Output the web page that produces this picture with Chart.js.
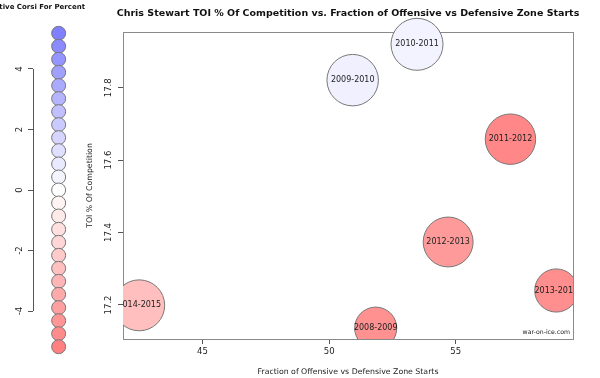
<!DOCTYPE html>
<html>
<head>
<meta charset="utf-8">
<script src="https://cdn.jsdelivr.net/npm/chart.js@4.4.0/dist/chart.umd.min.js"></script>
<style>
  html, body { margin: 0; padding: 0; background: #fff; }
  #wrap { position: relative; width: 600px; height: 378px; overflow: hidden; }
  canvas { position: absolute; top: 0; left: 0; }
</style>
</head>
<body>
<div id="wrap">
  <canvas id="legend" width="120" height="378"></canvas>
  <canvas id="chart" width="600" height="378"></canvas>
</div>
<script>
const seasons = ['2008-2009', '2009-2010', '2010-2011', '2011-2012', '2012-2013', '2013-2014', '2014-2015'];
const zoneStarts = [51.84, 50.93, 53.47, 57.16, 54.70, 58.97, 42.50];
const toiComp = [17.136, 17.821, 17.920, 17.658, 17.374, 17.240, 17.199];
const relCorsi = [-4.5, 0.6, 0.5, -4.9, -4.1, -4.6, -2.6];
const bubbleSize = [0.81, 0.99, 1.0, 0.97, 0.96, 0.83, 0.98];

const xTicks = [45, 50, 55];
const yTicks = [17.2, 17.4, 17.6, 17.8];

// colour key on the left
const legendValues = [5.18, 4.75, 4.32, 3.89, 3.45, 3.02, 2.59, 2.16, 1.73, 1.30, 0.86, 0.43, 0,
  -0.43, -0.86, -1.30, -1.73, -2.16, -2.59, -3.02, -3.45, -3.89, -4.32, -4.75, -5.18];
const legendTicks = [-4, -2, 0, 2, 4];

Chart.defaults.font.family = '"DejaVu Sans", sans-serif';

function colorFor(v) {
  const f = Math.min(Math.abs(v) / 5.18, 1);
  const c = Math.round(255 - 127 * f);
  return v >= 0 ? `rgb(${c},${c},255)` : `rgb(255,${c},${c})`;
}

const legendDeco = {
  id: 'legendDeco',
  beforeDatasetsDraw(chart) {
    // axis line only between first and last tick, like R
    const ctx = chart.ctx, s = chart.scales.y;
    const x = Math.round(chart.chartArea.left) + 0.5;
    ctx.save();
    ctx.strokeStyle = '#555';
    ctx.lineWidth = 1;
    ctx.beginPath();
    ctx.moveTo(x, s.getPixelForValue(legendTicks[0]));
    ctx.lineTo(x, s.getPixelForValue(legendTicks[legendTicks.length - 1]));
    ctx.stroke();
    ctx.restore();
  },
  afterDraw(chart) {
    const ctx = chart.ctx;
    ctx.save();
    ctx.fillStyle = '#111';
    ctx.font = 'bold 7px "DejaVu Sans"';
    ctx.textAlign = 'right';
    ctx.textBaseline = 'middle';
    ctx.fillText('Relative Corsi For Percent', 85, 7.5);
    ctx.restore();
  }
};

new Chart(document.getElementById('legend'), {
  type: 'bubble',
  data: {
    datasets: [{
      data: legendValues.map(v => ({ x: 25, y: v, r: 7 })),
      backgroundColor: legendValues.map(colorFor),
      borderColor: '#777',
      borderWidth: 1,
      clip: false
    }]
  },
  options: {
    responsive: false,
    animation: false,
    devicePixelRatio: 1,
    layout: { padding: { top: 23.6, bottom: 21.6, left: 0, right: 0 } },
    plugins: { legend: { display: false }, tooltip: { enabled: false } },
    scales: {
      x: { type: 'linear', display: false, min: 0, max: 77 },
      y: {
        min: -5.5, max: 5.5,
        afterBuildTicks: s => { s.ticks = legendTicks.map(v => ({ value: v })); },
        afterFit: s => { s.width = 33; },
        grid: { drawOnChartArea: false, tickLength: 5, color: '#555' },
        border: { display: false },
        ticks: { minRotation: 90, maxRotation: 90, crossAlign: 'center', padding: 4, color: '#222', font: { size: 8.5 } }
      }
    }
  },
  plugins: [legendDeco]
});

const boxPlugin = {
  id: 'box',
  beforeDatasetsDraw(chart) {
    const a = chart.chartArea, ctx = chart.ctx;
    ctx.save();
    ctx.strokeStyle = '#8a8a8a';
    ctx.lineWidth = 1;
    ctx.strokeRect(Math.round(a.left) + 0.5, Math.round(a.top) + 0.5,
      Math.round(a.right - a.left), Math.round(a.bottom - a.top));
    ctx.restore();
  }
};

const textPlugin = {
  id: 'texts',
  afterDatasetsDraw(chart) {
    const ctx = chart.ctx, a = chart.chartArea;
    const meta = chart.getDatasetMeta(0);
    ctx.save();
    ctx.beginPath();
    ctx.rect(a.left, a.top - 40, a.right - a.left, a.bottom - a.top + 40);
    ctx.clip();
    ctx.fillStyle = '#222';
    ctx.font = '8px "DejaVu Sans"';
    ctx.textAlign = 'center';
    ctx.textBaseline = 'middle';
    meta.data.forEach((pt, i) => ctx.fillText(seasons[i], pt.x, pt.y));
    ctx.restore();
  },
  afterDraw(chart) {
    const ctx = chart.ctx, a = chart.chartArea;
    const cx = (a.left + a.right) / 2;
    ctx.save();
    ctx.fillStyle = '#111';
    ctx.textAlign = 'center';
    ctx.textBaseline = 'middle';
    ctx.font = 'bold 9.5px "DejaVu Sans"';
    ctx.fillText('Chris Stewart TOI % Of Competition vs. Fraction of Offensive vs Defensive Zone Starts', cx, 14);
    ctx.fillStyle = '#222';
    ctx.font = '7.8px "DejaVu Sans"';
    ctx.fillText('Fraction of Offensive vs Defensive Zone Starts', cx, 372);
    ctx.save();
    ctx.translate(90, (a.top + a.bottom) / 2);
    ctx.rotate(-Math.PI / 2);
    ctx.fillText('TOI % Of Competition', 0, 0);
    ctx.restore();
    ctx.font = '6.2px "DejaVu Sans"';
    ctx.textAlign = 'right';
    ctx.fillText('war-on-ice.com', a.right - 3, a.bottom - 7);
    ctx.restore();
  }
};

new Chart(document.getElementById('chart'), {
  type: 'bubble',
  data: {
    datasets: [{
      data: seasons.map((s, i) => ({ x: zoneStarts[i], y: toiComp[i], r: bubbleSize[i] * 26 })),
      backgroundColor: relCorsi.map(colorFor),
      borderColor: '#777',
      borderWidth: 1,
      clip: { left: 0, top: 40, right: 0, bottom: 0 }
    }]
  },
  options: {
    responsive: false,
    animation: false,
    devicePixelRatio: 1,
    layout: { padding: { left: 0, right: 23, top: 32, bottom: 0 } },
    plugins: { legend: { display: false }, tooltip: { enabled: false } },
    scales: {
      x: {
        type: 'linear', min: 41.86, max: 59.63,
        afterBuildTicks: s => { s.ticks = xTicks.map(v => ({ value: v })); },
        afterFit: s => { s.height = 39; },
        grid: { drawOnChartArea: false, tickLength: 5, color: '#555' },
        border: { display: false },
        ticks: { padding: 3, color: '#222', font: { size: 8.5 } }
      },
      y: {
        min: 17.106, max: 17.954,
        afterBuildTicks: s => { s.ticks = yTicks.map(v => ({ value: v })); },
        afterFit: s => { s.width = 123; },
        grid: { drawOnChartArea: false, tickLength: 5, color: '#555' },
        border: { display: false },
        ticks: { minRotation: 90, maxRotation: 90, crossAlign: 'center', padding: 0, color: '#222', font: { size: 8.5 } }
      }
    }
  },
  plugins: [boxPlugin, textPlugin]
});
</script>
</body>
</html>
